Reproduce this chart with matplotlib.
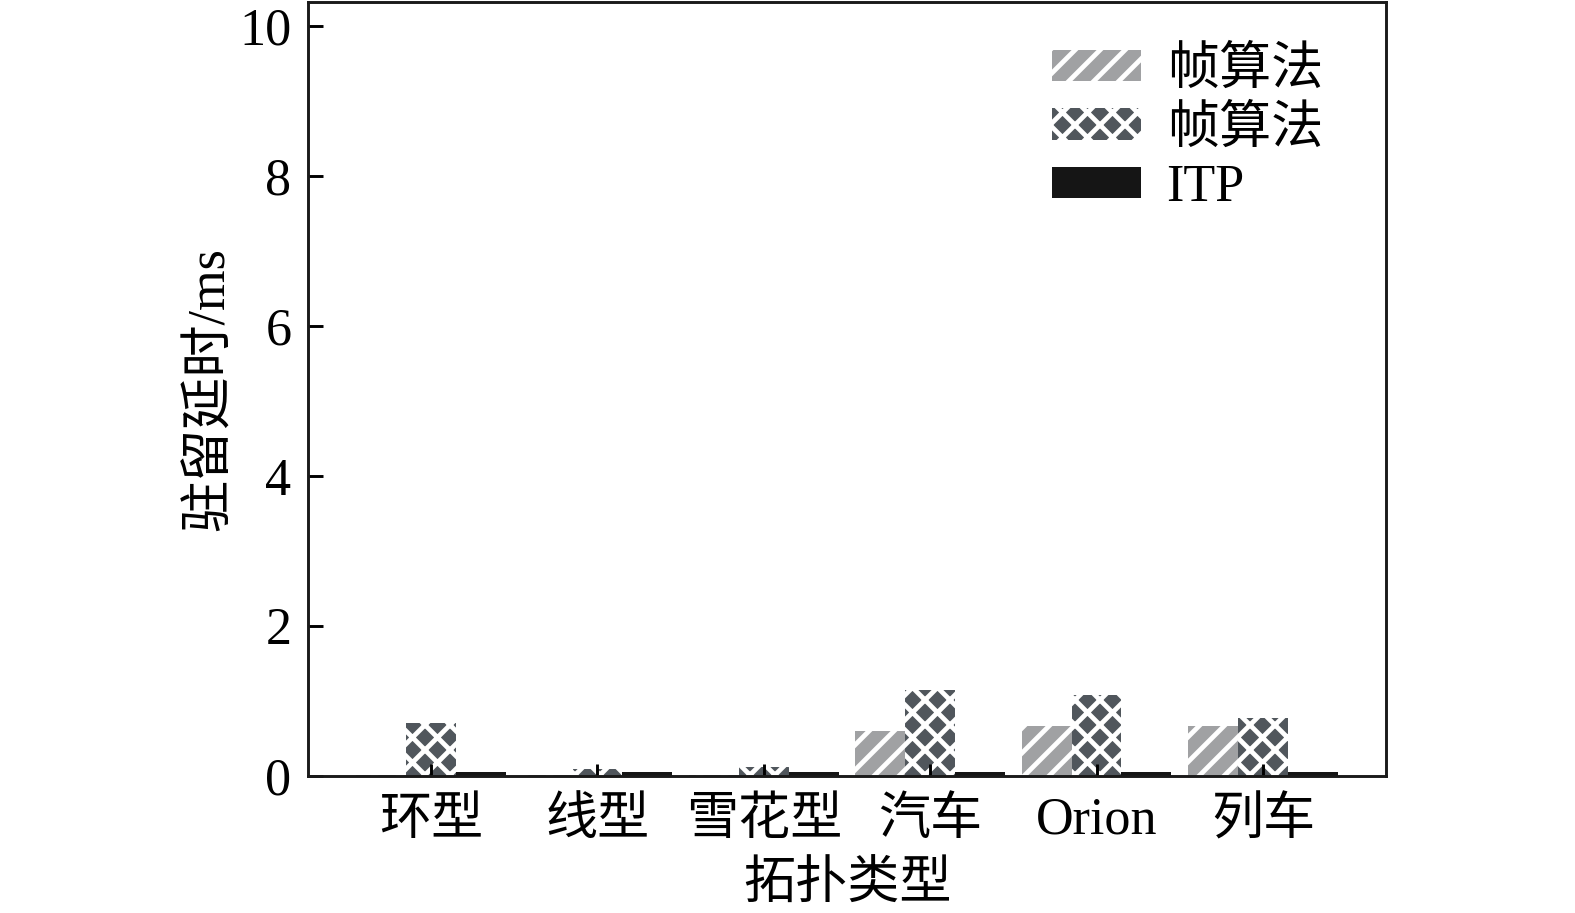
import matplotlib
matplotlib.use("Agg")
import matplotlib.pyplot as plt
import numpy as np

# topology types and dwell delay (ms) per method
categories = ["环型", "线型", "雪花型", "汽车", "Orion", "列车"]
frame_a = [0.01, 0.02, 0.01, 0.60, 0.67, 0.67]
frame_b = [0.71, 0.09, 0.12, 1.15, 1.08, 0.78]
itp = [0.05, 0.05, 0.05, 0.05, 0.05, 0.05]
labels = ["帧算法", "帧算法", "ITP"]

plt.rcParams['font.family'] = ['Liberation Serif', 'Noto Sans CJK SC']
plt.rcParams['hatch.linewidth'] = 2.3
plt.rcParams['axes.unicode_minus'] = False

fig = plt.figure(figsize=(10.5, 913 / 150), dpi=150)
ax = fig.add_axes([308 / 1575, 137 / 913, 1078 / 1575, 774 / 913])

x = np.arange(len(categories))
w = 0.30
ax.bar(x - w, frame_a, w, color="#a0a1a3", edgecolor="white", linewidth=0,
       hatch="//", label=labels[0])
ax.bar(x, frame_b, w, color="#50565c", edgecolor="white", linewidth=0,
       hatch="xx", label=labels[1])
ax.bar(x + w, itp, w, color="#151515", linewidth=0, label=labels[2])

ax.set_xlim(-0.74, 5.74)
ax.set_ylim(0, 10.32)
ax.set_yticks([0, 2, 4, 6, 8, 10])
ax.set_xticks(x)
ax.set_xticklabels(categories)

for s in ax.spines.values():
    s.set_linewidth(1.4)
    s.set_color("#1a1a1a")
ax.tick_params(axis="y", direction="in", length=7, width=1.4, labelsize=25, pad=8)
ax.tick_params(axis="x", direction="in", length=6, width=1.4, labelsize=25, pad=10)

ax.set_ylabel("驻留延时/ms", fontsize=25, labelpad=2)
ax.set_xlabel("拓扑类型", fontsize=25, labelpad=8)

ax.legend(loc="upper right", frameon=False, fontsize=25, handlelength=1.7,
          handleheight=0.55, labelspacing=0.2, handletextpad=0.5,
          bbox_to_anchor=(0.985, 1.003))

fig.savefig("out.png", dpi=150)
